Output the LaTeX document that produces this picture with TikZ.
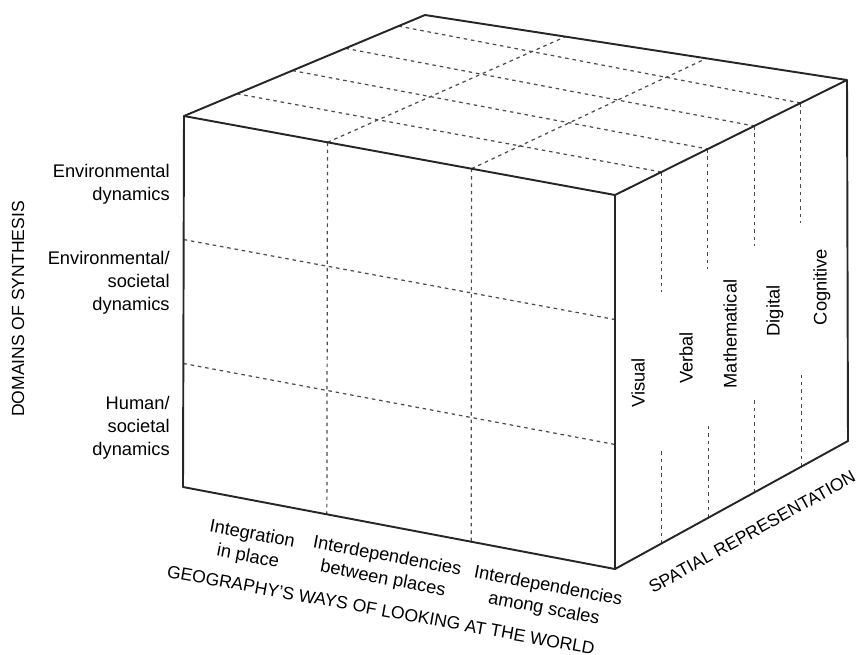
\documentclass[tikz,border=0pt]{standalone}
\usepackage{fontspec}
\setmainfont{Liberation Sans}
\usetikzlibrary{calc}

\begin{document}
\begin{tikzpicture}[x=0.02cm, y=-0.02cm,
    edge/.style={line width=1.1pt, black!85, line join=round},
    grid/.style={line width=0.7pt, black!70, dash pattern=on 2pt off 2.2pt},
    lbl/.style={font=\fontsize{10.4}{13}\selectfont, inner sep=0pt},
    axislbl/.style={font=\fontsize{10}{12}\selectfont, inner sep=0pt}]
  \useasboundingbox (0,0) rectangle (860,654);

  % Corners of the cube
  \coordinate (FL) at (184,116);
  \coordinate (FR) at (615,195);
  \coordinate (BL) at (425,15);
  \coordinate (BR) at (847,80);
  \coordinate (DL) at (183,487);
  \coordinate (DR) at (615,569);
  \coordinate (DB) at (848,441);

  % Front face grid
  \foreach \t in {0.333,0.667} {
    \draw[grid] ($(FL)!\t!(FR)$) -- ($(DL)!\t!(DR)$);
    \draw[grid] ($(FL)!\t!(DL)$) -- ($(FR)!\t!(DR)$);
  }

  % Top face grid
  \foreach \t in {0.333,0.667}
    \draw[grid] ($(FL)!\t!(FR)$) -- ($(BL)!\t!(BR)$);
  \foreach \s/\t in {0.22/0.2,0.45/0.4,0.67/0.6,0.89/0.8}
    \draw[grid] ($(FL)!\s!(BL)$) -- ($(FR)!\t!(BR)$);

  % Side face grid, broken where the labels sit
  \foreach \t in {0.2,0.4,0.6,0.8} {
    \draw[grid] ($(FR)!\t!(BR)$) -- ++(0,120);
    \draw[grid] ($(DR)!\t!(DB)$) -- ++(0,-95);
  }

  % Cube outline
  \draw[edge] (FL) -- (FR) -- (DR) -- (DL) -- cycle;
  \draw[edge] (FL) -- (BL) -- (BR) -- (FR);
  \draw[edge] (BR) -- (DB) -- (DR);

  % Domains of synthesis
  \node[lbl, anchor=east, align=right] (envdyn) at (170,184) {Environmental\\dynamics};
  \node[lbl, anchor=east, align=right] (envsoc) at (170,283) {Environmental/\\societal\\dynamics};
  \node[lbl, anchor=east, align=right] (humsoc) at (170,428) {Human/\\societal\\dynamics};
  \node[axislbl, rotate=90] (domains) at (18,309) {DOMAINS OF SYNTHESIS};

  % Ways of looking at the world
  \node[lbl, align=center, rotate=-10.8] (integ) at (250,546) {Integration\\in place};
  \node[lbl, align=center, rotate=-10.8] (between) at (385,568) {Interdependencies\\between places};
  \node[lbl, align=center, rotate=-10.8] (among) at (546,598) {Interdependencies\\among scales};
  \node[axislbl, rotate=-10.3] (geo) at (381,610) {GEOGRAPHY'S WAYS OF LOOKING AT THE WORLD};

  % Spatial representation
  \node[lbl, rotate=90] (visual) at (638,383) {Visual};
  \node[lbl, rotate=90] (verbal) at (686,358) {Verbal};
  \node[lbl, rotate=90] (math) at (730,334) {Mathematical};
  \node[lbl, rotate=90] (digital) at (775,311) {Digital};
  \node[lbl, rotate=90] (cognitive) at (822,287) {Cognitive};
  \node[axislbl, rotate=29] (spatial) at (752,532) {SPATIAL REPRESENTATION};
\end{tikzpicture}
\end{document}
